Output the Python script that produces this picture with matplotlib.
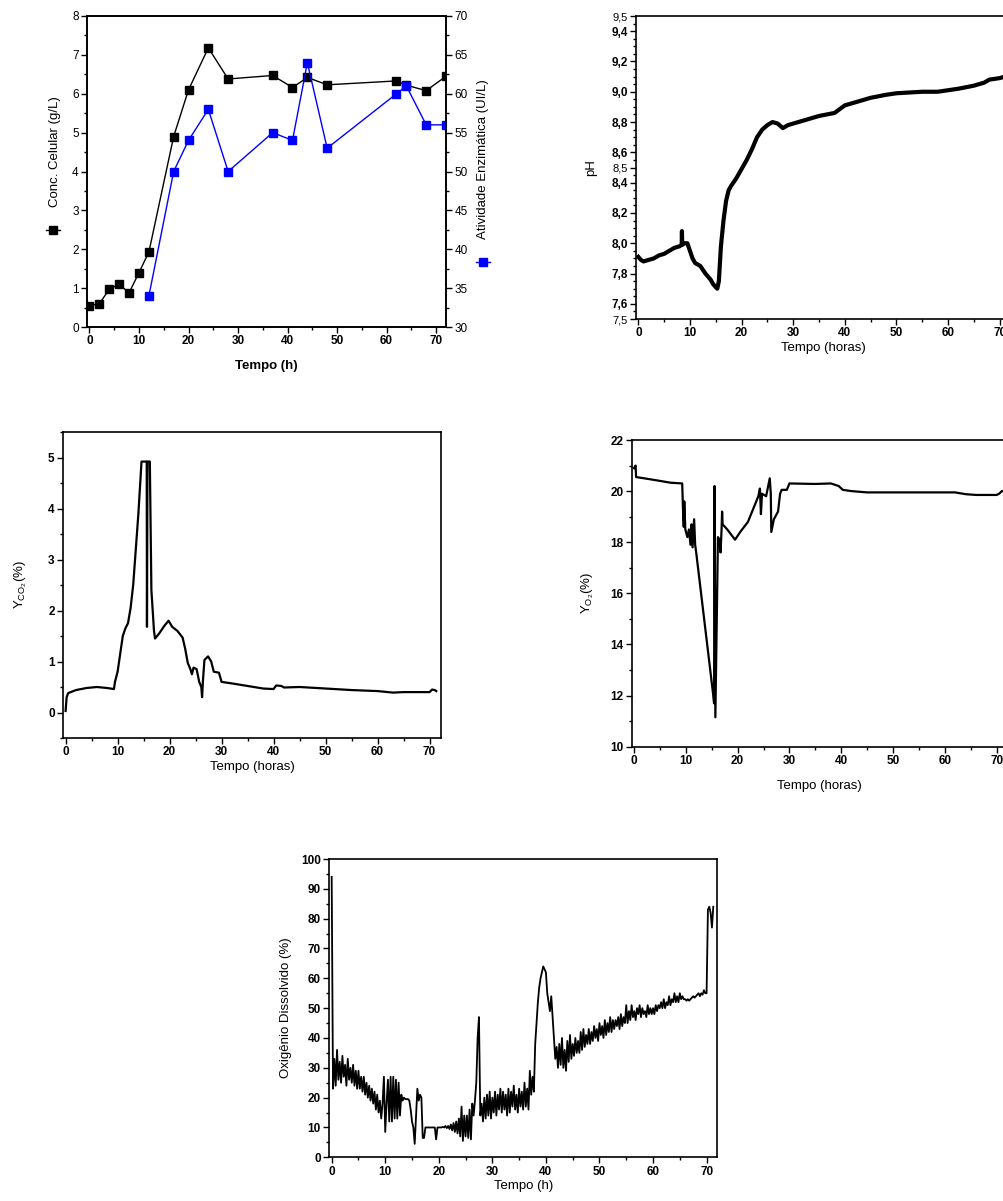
import numpy as np
import matplotlib
matplotlib.use("Agg")
import matplotlib.pyplot as plt
from matplotlib.ticker import MultipleLocator, FixedLocator
from matplotlib.lines import Line2D

plt.rcParams['font.family'] = ['Liberation Sans', 'DejaVu Sans']
plt.rcParams['mathtext.fontset'] = 'custom'
plt.rcParams['mathtext.rm'] = 'Liberation Sans'
plt.rcParams['xtick.direction'] = 'out'
plt.rcParams['ytick.direction'] = 'out'

# ---------------------------------------------------------------
# Dados
# ---------------------------------------------------------------
# Painel 1: concentração celular e atividade enzimática
t_cel = [0, 2, 4, 6, 8, 10, 12, 17, 20, 24, 28, 37, 41, 44, 48, 62, 64, 68, 72]
conc_cel = [0.55, 0.6, 0.97, 1.1, 0.88, 1.4, 1.93, 4.9, 6.1, 7.18, 6.38, 6.47,
            6.16, 6.42, 6.23, 6.33, 6.22, 6.08, 6.45]
t_enz = [12, 17, 20, 24, 28, 37, 41, 44, 48, 62, 64, 68, 72]
ativ_enz = [34, 50, 54, 58, 50, 55, 54, 64, 53, 60, 61, 56, 56]

# Painel 2: pH
t_ph = [0, 0.5, 1, 2, 3, 4, 5, 6, 7, 8, 8.4, 8.45, 8.5, 9, 9.5, 10, 10.5, 11,
        12, 13, 14, 14.5, 15, 15.3, 15.6, 16, 16.5, 17, 17.5, 18, 19, 20, 21,
        22, 23, 24, 25, 26, 27, 28, 29, 30, 32, 35, 38, 40, 42, 45, 48, 50,
        55, 58, 60, 62, 65, 67, 68, 70, 71, 72]
ph = [7.91, 7.89, 7.88, 7.89, 7.90, 7.92, 7.93, 7.95, 7.97, 7.98, 7.99, 8.08,
      7.99, 8.0, 8.0, 7.95, 7.90, 7.87, 7.85, 7.80, 7.76, 7.73, 7.71, 7.70,
      7.75, 7.98, 8.15, 8.28, 8.35, 8.38, 8.43, 8.49, 8.55, 8.62, 8.70, 8.75,
      8.78, 8.80, 8.79, 8.76, 8.78, 8.79, 8.81, 8.84, 8.86, 8.91, 8.93, 8.96,
      8.98, 8.99, 9.0, 9.0, 9.01, 9.02, 9.04, 9.06, 9.08, 9.09, 9.10, 9.09]
ph_ticks = [7.5, 7.6, 7.8, 8.0, 8.2, 8.4, 8.5, 8.6, 8.8, 9.0, 9.2, 9.4, 9.5]

# Painel 3: Y CO2
t_co2 = [0, 0.2, 0.5, 1, 2, 4, 6, 8, 9.3, 9.5, 10, 10.5, 11, 11.5, 12, 12.5,
         13, 13.5, 14, 14.6, 15.6, 15.65, 15.75, 16.2, 16.5, 17, 17.2, 18, 19,
         19.8, 20.5, 21.5, 22.5, 23, 23.5, 24, 24.3, 24.6, 25.2, 25.7, 26.1,
         26.25, 26.4, 26.7, 27.4, 28, 28.5, 29.5, 30, 32, 35, 38, 40, 40.5,
         41.5, 42, 45, 50, 55, 60, 63, 65, 70, 70.5, 71, 71.3]
y_co2 = [0.03, 0.3, 0.38, 0.4, 0.44, 0.48, 0.5, 0.48, 0.46, 0.6, 0.8, 1.15,
         1.5, 1.65, 1.75, 2.05, 2.5, 3.2, 3.9, 4.92, 4.92, 1.68, 4.92, 4.92,
         2.4, 1.6, 1.45, 1.55, 1.7, 1.8, 1.68, 1.6, 1.47, 1.25, 0.97, 0.85,
         0.75, 0.88, 0.85, 0.6, 0.5, 0.3, 0.6, 1.03, 1.1, 1.0, 0.8, 0.78, 0.6,
         0.57, 0.52, 0.47, 0.46, 0.53, 0.52, 0.49, 0.5, 0.47, 0.44, 0.42,
         0.39, 0.4, 0.4, 0.45, 0.44, 0.42]

# Painel 4: Y O2
t_o2 = [0, 0.3, 0.4, 2, 5, 7, 9.3, 9.5, 9.6, 9.7, 9.9, 10.3, 10.6, 10.9, 11.1,
        11.3, 11.6, 11.8, 12, 15.3, 15.45, 15.55, 15.7, 16.2, 16.5, 16.7, 16.9,
        17.0, 17.1, 18, 19.5, 20.5, 22, 23, 24, 24.3, 24.5, 24.7, 25.5, 26.2,
        26.4, 26.5, 27, 27.8, 28.2, 28.5, 29.5, 30, 35, 38, 39.5, 40.3, 42,
        45, 50, 60, 62, 64, 66, 70, 70.5, 71, 72]
y_o2 = [20.9, 21.0, 20.55, 20.5, 20.4, 20.33, 20.3, 19.0, 18.6, 19.6, 18.5,
        18.2, 18.5, 17.9, 18.7, 17.8, 18.9, 17.9, 17.6, 12.0, 11.7, 20.2,
        11.15, 18.2, 18.1, 17.6, 18.5, 19.2, 18.7, 18.5, 18.1, 18.4, 18.8,
        19.3, 19.8, 20.1, 19.1, 19.9, 19.8, 20.5, 19.9, 18.4, 18.9, 19.2,
        19.9, 20.05, 20.05, 20.3, 20.28, 20.3, 20.2, 20.05, 20.0, 19.95,
        19.95, 19.95, 19.95, 19.88, 19.85, 19.85, 19.9, 20.0, 20.0]

# Painel 5: oxigênio dissolvido (leitura a cada 0,25 h)
t_od = np.arange(0, 71.5, 0.25)
od = [94, 23, 33, 24,   36, 26, 32, 25,   34, 27, 31, 24,   33, 26, 30, 25,
      31, 24, 29, 23,   29, 23, 27, 22,   27, 21, 25, 20,   24, 19, 23, 18,
      22, 16, 21, 15,   19, 13, 18, 27,   8.5, 18, 26, 12,  27, 12, 27, 13,
      26, 13, 25, 14,   21, 19, 20, 19.5, 19.5, 19.5, 19, 16, 12, 10, 4.5, 14,
      23, 19, 21, 20,   6.5, 6.5, 10, 10, 10, 10, 10, 10,   10, 10, 6, 10,
      10, 10, 10, 10.2, 10, 10.5, 9.8, 10.5, 9.5, 11, 9, 11.5, 8.5, 12, 8, 13,
      7, 17, 5.5, 14,   7, 14, 6.5, 16,  6, 18, 14, 19,    25, 40, 47, 14,
      18, 12, 20, 13,   21, 14, 22, 13,  20, 15, 22, 14,   21, 16, 23, 15,
      22, 16, 21, 14,   23, 15, 22, 17,  24, 16, 21, 15,   23, 17, 22, 16,
      25, 17, 23, 16,   29, 21, 27, 22,  38, 45, 52, 57,   60, 62, 64, 63,
      62, 55, 52, 49,   54, 47, 40, 33,  37, 30, 38, 31,   40, 30, 36, 29,
      39, 32, 41, 33,   38, 34, 40, 35,  39, 35, 42, 36,   43, 37, 41, 38,
      43, 38, 42, 39,   44, 40, 43, 39,  45, 41, 44, 40,   46, 41, 45, 42,
      47, 42, 46, 43,   46, 44, 47, 43,  48, 44, 47, 45,   51, 45, 49, 46,
      51, 47, 49, 46,   50, 48, 51, 47,  50, 48, 49, 47,   51, 48, 50, 48,
      50, 48, 51, 49,   51, 50, 52, 50,  53, 50, 52, 51,   54, 51, 53, 52,
      55, 52, 54, 52,   55, 53, 54, 53,  53, 52.5, 53, 52.5, 53, 53.5, 54, 53.5,
      54, 54.5, 55, 54, 55, 54.5, 56, 55, 55, 83, 84, 82,   77, 84]

# ---------------------------------------------------------------
# Figura
# ---------------------------------------------------------------
fig = plt.figure(figsize=(10.04, 12.01), dpi=100)
W, H = 1004.0, 1201.0


def pos(left, right, top, bottom):
    return [left / W, 1 - bottom / H, (right - left) / W, (bottom - top) / H]


def estilo(ax, bold=True):
    ax.tick_params(which='major', length=4, width=1, labelsize=8.5, pad=2)
    ax.tick_params(which='minor', length=2, width=1)
    for s in ax.spines.values():
        s.set_linewidth(1.2)
    if bold:
        for lb in ax.get_xticklabels() + ax.get_yticklabels():
            lb.set_fontweight('bold')


# 1. Conc. celular / atividade enzimática
ax1 = fig.add_axes(pos(87, 446, 16, 327))
ax1.plot(t_cel, conc_cel, '-s', color='black', lw=1, ms=6)
ax1.set_xlim(-0.5, 72)
ax1.set_ylim(0, 8)
ax1.xaxis.set_major_locator(MultipleLocator(10))
ax1.xaxis.set_minor_locator(MultipleLocator(5))
ax1.yaxis.set_major_locator(MultipleLocator(1))
ax1.yaxis.set_minor_locator(MultipleLocator(0.5))
ax1.set_xlabel('Tempo (h)', fontsize=9.5, fontweight='bold', labelpad=9)
estilo(ax1, bold=False)
for lb in ax1.get_xticklabels():
    lb.set_fontweight('bold')
ax1b = ax1.twinx()
ax1b.plot(t_enz, ativ_enz, '-s', color='#0000ff', lw=1, ms=6)
ax1b.set_ylim(30, 70)
ax1b.yaxis.set_major_locator(MultipleLocator(5))
ax1b.yaxis.set_minor_locator(MultipleLocator(2.5))
estilo(ax1b, bold=False)
fig.text(55 / W, 1 - 152 / H, 'Conc. Celular (g/L)', rotation=90,
         ha='center', va='center', fontsize=9.5)
fig.text(483 / W, 1 - 159 / H, 'Atividade Enzimática (UI/L)', rotation=90,
         ha='center', va='center', fontsize=9.5)
fig.add_artist(Line2D([46 / W, 60 / W], [1 - 230 / H] * 2, color='black',
                      lw=1, transform=fig.transFigure))
fig.add_artist(Line2D([53 / W], [1 - 230 / H], marker='s', ms=6,
                      color='black', transform=fig.transFigure))
fig.add_artist(Line2D([476 / W, 490 / W], [1 - 262 / H] * 2, color='#0000ff',
                      lw=1, transform=fig.transFigure))
fig.add_artist(Line2D([483 / W], [1 - 262 / H], marker='s', ms=6,
                      color='#0000ff', transform=fig.transFigure))

# 2. pH
ax2 = fig.add_axes(pos(636, 1010, 16, 319))
ax2.plot(t_ph, ph, color='black', lw=3)
ax2.set_xlim(-0.45, 72)
ax2.set_ylim(7.5, 9.5)
ax2.xaxis.set_major_locator(MultipleLocator(10))
ax2.xaxis.set_minor_locator(MultipleLocator(5))
ax2.yaxis.set_major_locator(FixedLocator(ph_ticks))
ax2.yaxis.set_minor_locator(MultipleLocator(0.05))
ax2.set_yticklabels([('%.1f' % v).replace('.', ',') for v in ph_ticks])
ax2.set_xlabel('Tempo (horas)', fontsize=9.5, labelpad=2)
ax2.set_ylabel('pH', fontsize=9.5, labelpad=10)
estilo(ax2)
for v, lb in zip(ph_ticks, ax2.get_yticklabels()):
    if v in (7.5, 8.5, 9.5):
        lb.set_fontweight('normal')
        lb.set_fontsize(8)

# 3. Y CO2
ax3 = fig.add_axes(pos(63, 441, 432, 738))
ax3.plot(t_co2, y_co2, color='black', lw=1.6)
ax3.set_xlim(-0.5, 72.2)
ax3.set_ylim(-0.5, 5.5)
ax3.xaxis.set_major_locator(MultipleLocator(10))
ax3.xaxis.set_minor_locator(MultipleLocator(5))
ax3.yaxis.set_major_locator(MultipleLocator(1))
ax3.yaxis.set_minor_locator(MultipleLocator(0.5))
ax3.set_xlabel('Tempo (horas)', fontsize=9.5, labelpad=2)
ax3.set_ylabel(r'Y$_{\mathrm{CO}_2}$(%)', fontsize=9.5, labelpad=14)
estilo(ax3)

# 4. Y O2
ax4 = fig.add_axes(pos(631.7, 1007, 440, 746.7))
ax4.plot(t_o2, y_o2, color='black', lw=1.6)
ax4.set_xlim(-0.45, 72)
ax4.set_ylim(10, 22)
ax4.xaxis.set_major_locator(MultipleLocator(10))
ax4.xaxis.set_minor_locator(MultipleLocator(5))
ax4.yaxis.set_major_locator(MultipleLocator(2))
ax4.yaxis.set_minor_locator(MultipleLocator(1))
ax4.set_xlabel('Tempo (horas)', fontsize=9.5, labelpad=9)
ax4.set_ylabel(r'Y$_{\mathrm{O}_2}$(%)', fontsize=9.5, labelpad=10)
estilo(ax4)

# 5. Oxigênio dissolvido
ax5 = fig.add_axes(pos(329, 717.3, 859, 1157.3))
ax5.plot(t_od, od, color='black', lw=1.3)
ax5.set_xlim(-0.5, 72)
ax5.set_ylim(0, 100)
ax5.xaxis.set_major_locator(MultipleLocator(10))
ax5.xaxis.set_minor_locator(MultipleLocator(5))
ax5.yaxis.set_major_locator(MultipleLocator(10))
ax5.yaxis.set_minor_locator(MultipleLocator(5))
ax5.set_xlabel('Tempo (h)', fontsize=9.5, labelpad=2)
ax5.set_ylabel('Oxigênio Dissolvido (%)', fontsize=9.5, labelpad=6)
estilo(ax5)

fig.savefig('out.png', dpi=100)
